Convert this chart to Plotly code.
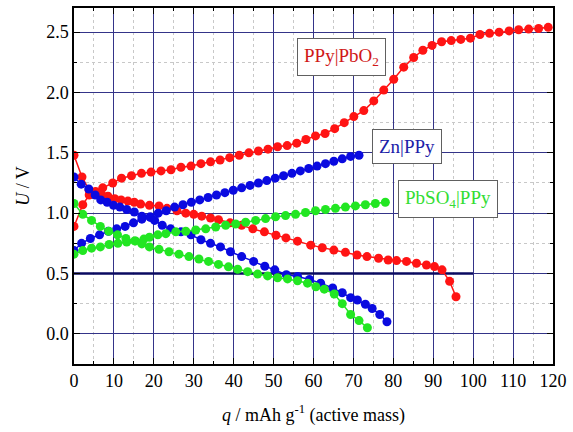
import plotly.graph_objects as go

# PPy|PbO2 (red)
red_ch_x = [0, 2.2, 3.8, 5.4, 7.2, 9.7, 11.9, 14.4, 16.9, 19.3, 21.8, 24.3, 26.8, 29.3, 31.8, 34.2,
            36.6, 39.0, 41.4, 43.8, 46.2, 48.6, 51.0, 53.4, 55.8, 58.1, 60.5, 62.9, 65.3, 67.7,
            70.1, 72.6, 75.1, 77.6, 80.1, 82.6, 85.1, 87.4, 89.7, 92.1, 94.5, 96.9, 99.3, 101.7,
            104.1, 106.5, 109.0, 111.4, 113.9, 116.4, 118.8]
red_ch_y = [0.89, 1.07, 1.15, 1.18, 1.21, 1.25, 1.29, 1.31, 1.33, 1.34, 1.35, 1.36, 1.38, 1.39, 1.41, 1.425,
            1.44, 1.46, 1.48, 1.50, 1.515, 1.53, 1.55, 1.56, 1.58, 1.61, 1.64, 1.66, 1.70, 1.75,
            1.80, 1.85, 1.93, 2.02, 2.11, 2.21, 2.29, 2.35, 2.39, 2.42, 2.43, 2.44, 2.45, 2.48,
            2.49, 2.50, 2.51, 2.52, 2.525, 2.53, 2.54]
red_dis_x = [0, 2.0, 3.8, 5.5, 7.0, 8.5, 10.2, 11.8, 13.5, 15.1, 16.7, 18.9, 21.3, 23.3, 25.8, 28.0,
             30.0, 32.0, 34.2, 36.2, 39.1, 42.0, 44.8, 47.7, 50.6, 53.1, 56.0, 59.3, 62.2, 65.1,
             68.0, 70.9, 73.4, 76.3, 78.7, 80.8, 83.3, 85.8, 88.3, 90.3, 92.2, 94.1, 95.7]
red_dis_y = [1.48, 1.30, 1.19, 1.16, 1.15, 1.14, 1.12, 1.11, 1.10, 1.09, 1.075, 1.065, 1.06, 1.04, 1.02, 1.00,
             0.99, 0.975, 0.96, 0.945, 0.92, 0.90, 0.87, 0.845, 0.817, 0.795, 0.768, 0.735, 0.713, 0.694,
             0.675, 0.653, 0.64, 0.626, 0.612, 0.607, 0.60, 0.585, 0.57, 0.557, 0.53, 0.435, 0.307]

# Zn|PPy (blue)
blue_ch_x = [0, 1.9, 4.1, 6.4, 8.6, 10.7, 12.8, 14.9, 17.0, 19.1, 21.1, 23.1, 25.2, 27.3, 29.4, 31.5,
             33.6, 35.7, 37.8, 39.9, 42.0, 44.1, 46.2, 48.3, 50.4, 52.5, 54.6, 56.7, 58.8, 60.9,
             63.0, 65.1, 67.2, 69.3, 71.4]
blue_ch_y = [0.69, 0.75, 0.79, 0.82, 0.85, 0.87, 0.89, 0.92, 0.95, 0.97, 1.00, 1.02, 1.05, 1.07, 1.09, 1.11,
             1.13, 1.15, 1.17, 1.19, 1.21, 1.23, 1.25, 1.27, 1.29, 1.31, 1.33, 1.35, 1.37, 1.39,
             1.41, 1.43, 1.45, 1.47, 1.48]
blue_dis_x = [0, 1.8, 3.7, 5.3, 6.7, 8.3, 9.9, 11.5, 13.2, 15.1, 17.0, 19.1, 20.2, 22.1, 24.2, 26.8,
              29.3, 31.8, 34.2, 36.7, 39.2, 42.0, 45.0, 47.8, 50.3, 53.2, 56.0, 59.0, 61.8, 64.8,
              67.2, 69.3, 71.0, 73.0, 74.7, 76.6, 78.4]
blue_dis_y = [1.30, 1.24, 1.20, 1.15, 1.11, 1.09, 1.065, 1.05, 1.03, 1.01, 0.975, 0.965, 0.94, 0.90, 0.87, 0.845,
              0.82, 0.78, 0.75, 0.72, 0.68, 0.64, 0.60, 0.56, 0.53, 0.49, 0.475, 0.45, 0.42, 0.38,
              0.34, 0.30, 0.28, 0.245, 0.21, 0.16, 0.10]

# PbSO4|PPy (green)
green_ch_x = [0, 2.2, 4.4, 6.6, 8.8, 11.0, 13.2, 15.4, 17.5, 18.9, 21.0, 23.0, 25.5, 28.0, 30.5, 33.0,
              35.5, 38.0, 40.5, 43.0, 45.5, 48.0, 50.5, 53.0, 55.5, 58.0, 60.5, 63.0, 65.5, 68.0,
              70.5, 73.0, 75.5, 78.0]
green_ch_y = [0.66, 0.69, 0.71, 0.72, 0.74, 0.75, 0.76, 0.77, 0.785, 0.80, 0.82, 0.83, 0.845, 0.85, 0.86, 0.87,
              0.885, 0.90, 0.91, 0.925, 0.94, 0.955, 0.97, 0.98, 0.99, 1.005, 1.02, 1.03, 1.04, 1.05,
              1.06, 1.07, 1.08, 1.09]
green_dis_x = [0, 2.2, 4.4, 6.6, 8.7, 10.9, 13.0, 15.2, 17.0, 18.9, 21.3, 23.8, 26.3, 28.8, 31.3, 33.7,
               36.2, 38.7, 41.0, 43.5, 46.0, 48.5, 51.0, 53.5, 56.0, 58.5, 60.6, 62.7, 65.2, 67.2,
               69.3, 71.4, 73.5]
green_dis_y = [1.08, 0.99, 0.94, 0.89, 0.85, 0.82, 0.79, 0.77, 0.745, 0.72, 0.70, 0.68, 0.66, 0.64, 0.62, 0.60,
               0.575, 0.555, 0.535, 0.515, 0.495, 0.48, 0.465, 0.455, 0.44, 0.42, 0.39, 0.37, 0.33, 0.25,
               0.16, 0.11, 0.05]

cutoff_x = [0, 100]
cutoff_y = [0.5, 0.5]

RED = "#ff1414"
BLUE = "#0a0ae0"
GREEN = "#22e622"
FONT = "'Liberation Serif', 'Times New Roman', Times, serif"

fig = go.Figure()
fig.add_trace(go.Scatter(x=cutoff_x, y=cutoff_y, mode="lines",
                         line=dict(color="#0a0a60", width=2.5), showlegend=False))
series = [
    (red_ch_x, red_ch_y, RED), (red_dis_x, red_dis_y, RED),
    (blue_ch_x, blue_ch_y, BLUE), (blue_dis_x, blue_dis_y, BLUE),
    (green_ch_x, green_ch_y, GREEN), (green_dis_x, green_dis_y, GREEN),
]
for xs, ys, c in series:
    fig.add_trace(go.Scatter(x=xs, y=ys, mode="lines+markers",
                             line=dict(color=c, width=1.5),
                             marker=dict(color=c, size=9, line=dict(width=0)),
                             showlegend=False))

axis_common = dict(
    showline=True, linecolor="black", linewidth=1.5, mirror="allticks",
    ticks="inside", ticklen=6, tickcolor="black", tickwidth=1.2,
    showgrid=True, gridcolor="#343488", gridwidth=1,
    zeroline=False,
    tickfont=dict(family=FONT, size=18, color="black"),
)

fig.update_xaxes(**axis_common, range=[0, 120], tick0=0, dtick=10,
                 minor=dict(dtick=5, ticks="inside", ticklen=3, tickcolor="black",
                            showgrid=True, gridcolor="#c8c8c8", griddash="dot", gridwidth=1),
                 title=dict(text="<i>q</i> / mAh g<sup>-1</sup> (active mass)",
                            font=dict(family=FONT, size=18, color="black"), standoff=18))
fig.update_yaxes(**axis_common, range=[-0.25, 2.7], tick0=0, dtick=0.5, tickformat=".1f",
                 minor=dict(dtick=0.25, ticks="inside", ticklen=3, tickcolor="black",
                            showgrid=True, gridcolor="#c8c8c8", griddash="dot", gridwidth=1),
                 title=dict(text="<i>U</i> / V",
                            font=dict(family=FONT, size=18, color="black"), standoff=12))

ann_common = dict(xref="x", yref="y", showarrow=False, bgcolor="white",
                  bordercolor="#606060", borderwidth=1, borderpad=6)
fig.add_annotation(x=67.1, y=2.295, text="PPy|PbO<sub>2</sub>",
                   font=dict(family=FONT, size=19, color="#d01818"), **ann_common)
fig.add_annotation(x=83.5, y=1.553, text="Zn|PPy",
                   font=dict(family=FONT, size=19, color="#2020a8"), **ann_common)
fig.add_annotation(x=93.7, y=1.115, text="PbSO<sub>4</sub>|PPy",
                   font=dict(family=FONT, size=19, color="#33dd33"), **ann_common)

fig.update_layout(width=573, height=432, margin=dict(l=74, r=14, t=6, b=68),
                  paper_bgcolor="white", plot_bgcolor="white",
                  font=dict(family=FONT))

fig.write_html("out.html")
